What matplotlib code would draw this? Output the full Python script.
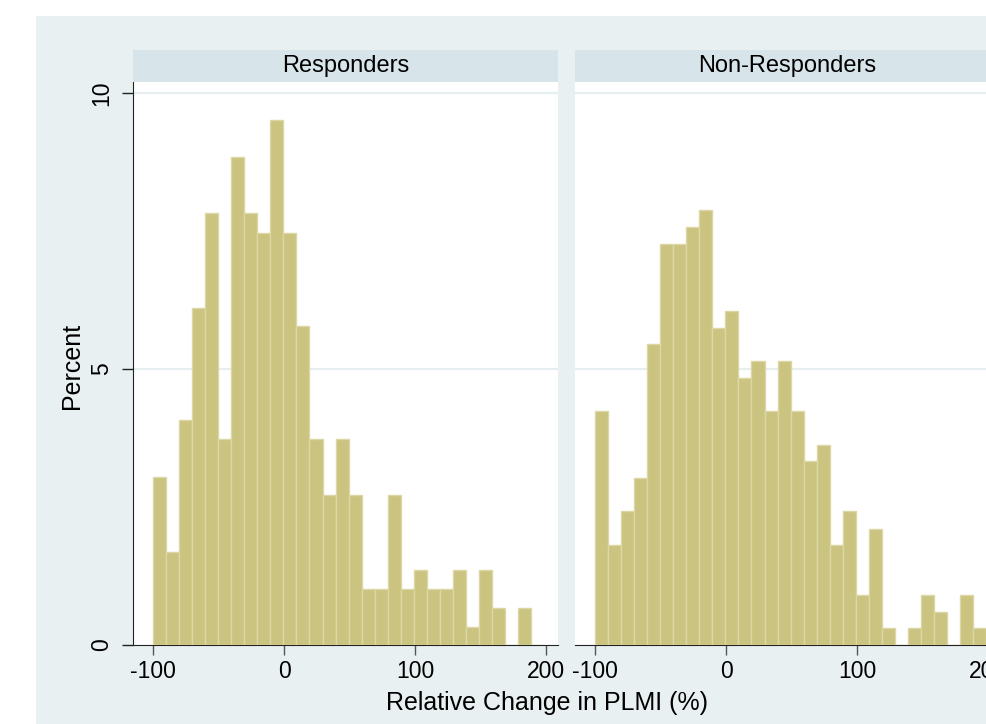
import numpy as np
import matplotlib
matplotlib.use("Agg")
from matplotlib import pyplot as plt
from matplotlib.patches import Rectangle

plt.rcParams["font.family"] = ["Liberation Sans", "DejaVu Sans"]

# histogram bins (Stata-style, shared by both panels)
bin_start = -100
bin_width = 9.955
n_bins = 30

panels = ["Responders", "Non-Responders"]

responders = [3.05, 1.69, 4.07, 6.11, 7.82, 3.73, 8.84, 7.82, 7.47, 9.52,
              7.47, 5.78, 3.73, 2.71, 3.73, 2.71, 1.01, 1.01, 2.71, 1.01,
              1.35, 1.01, 1.01, 1.35, 0.33, 1.35, 0.67, 0.0, 0.67, 0.0]
non_responders = [4.24, 1.82, 2.42, 3.02, 5.45, 7.26, 7.26, 7.57, 7.88, 5.75,
                  6.06, 4.84, 5.14, 4.24, 5.14, 4.24, 3.33, 3.62, 1.82, 2.42,
                  0.91, 2.11, 0.30, 0.0, 0.30, 0.91, 0.60, 0.0, 0.91, 0.30]

x_ticks = [-100, 0, 100, 200]
y_ticks = [0, 5, 10]

bg = "#e8f0f2"
strip_col = "#d7e4ea"
grid_col = "#e6eef0"
bar_fill = "#cbc380"
bar_edge = "#dcd7a4"
axis_col = "#222222"

W, H = 986, 724
fig = plt.figure(figsize=(W / 100, H / 100), dpi=100, facecolor="white")


def fx(px):
    return px / W


def fy(py):
    return 1 - py / H


fig.patches.append(Rectangle((fx(36), 0), 1, fy(16), transform=fig.transFigure,
                             facecolor=bg, edgecolor="none", zorder=-10))

edges = bin_start + bin_width * np.arange(n_bins + 1)
panel_left = [133, 575]
panel_w = 425
top_px, bottom_px = 82, 645

for i, (name, vals) in enumerate(zip(panels, [responders, non_responders])):
    left = panel_left[i]
    ax = fig.add_axes([fx(left), fy(bottom_px), fx(panel_w), (bottom_px - top_px) / H])
    ax.set_facecolor("white")
    ax.bar(edges[:-1], vals, width=bin_width, align="edge", color=bar_fill,
           edgecolor=bar_edge, linewidth=1.0, zorder=3)
    ax.set_xlim(-115.3, 209.2)
    ax.set_ylim(0, 10.2)
    for g in [5, 10]:
        ax.axhline(g, color=grid_col, linewidth=1.6, zorder=1)
    for s in ["top", "right"]:
        ax.spines[s].set_visible(False)
    ax.spines["bottom"].set_color(axis_col)
    ax.spines["left"].set_color(axis_col)
    ax.set_xticks(x_ticks)
    ax.set_xticklabels([str(t) for t in x_ticks], fontsize=16.5)
    ax.tick_params(axis="x", length=7, width=1, color="#555555", pad=4)
    if i == 0:
        ax.set_yticks(y_ticks)
        ax.set_yticklabels([str(t) for t in y_ticks], fontsize=16.5, rotation=90, va="center")
        ax.tick_params(axis="y", length=8, width=1, color=axis_col, pad=6)
    else:
        ax.spines["left"].set_visible(False)
        ax.set_yticks([])

    sax = fig.add_axes([fx(left), fy(82), fx(panel_w), 32 / H])
    sax.set_facecolor(strip_col)
    sax.set_xticks([])
    sax.set_yticks([])
    for s in sax.spines.values():
        s.set_visible(False)
    sax.text(0.5, 0.5, name, ha="center", va="center", fontsize=17, transform=sax.transAxes)

fig.text(fx(72), fy(366), "Percent", rotation=90, ha="center", va="center", fontsize=18)
fig.text(fx(547), fy(703), "Relative Change in PLMI (%)", ha="center", va="center", fontsize=18)

fig.savefig("out.png", dpi=100, facecolor="white")
